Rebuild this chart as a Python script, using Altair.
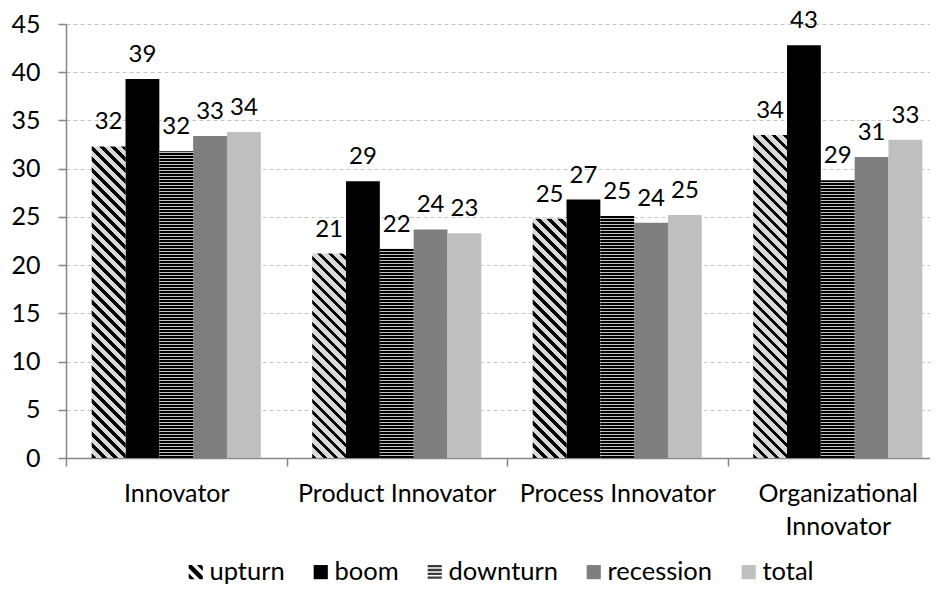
import altair as alt
import pandas as pd

categories = ["Innovator", "Product Innovator", "Process Innovator", "Organizational Innovator"]
series = ["upturn", "boom", "downturn", "recession", "total"]
upturn = [32.3, 21.2, 24.8, 33.5]
boom = [39.3, 28.7, 26.8, 42.8]
downturn = [31.8, 21.7, 25.1, 28.8]
recession = [33.4, 23.7, 24.4, 31.2]
total = [33.8, 23.3, 25.2, 33.0]
y_ticks = [0, 5, 10, 15, 20, 25, 30, 35, 40, 45]

series_values = {"upturn": upturn, "boom": boom, "downturn": downturn,
                 "recession": recession, "total": total}
rows = []
for s in series:
    for c, v in zip(categories, series_values[s]):
        rows.append({"category": c, "series": s, "value": v})
df = pd.DataFrame(rows)

FONT = "Lato"
W, H = 864, 434
STEP = 220.5
X_RANGE = STEP * len(categories)
OFF_PAD = 0.76
YMAX = 45
BAR_W = STEP / (len(series) + 2 * OFF_PAD)
GRAY = "#868686"


def stripe_stops(length, period, dark_len, dark, light):
    stops = []
    n = int(length / period) + 2
    for i in range(n):
        a = min(i * period / length, 1.0)
        b = min((i * period + dark_len) / length, 1.0)
        c = min((i + 1) * period / length, 1.0)
        stops += [{"offset": a, "color": dark}, {"offset": b, "color": dark},
                  {"offset": b, "color": light}, {"offset": c, "color": light}]
        if c >= 1.0:
            break
    return stops


def diag_fill(value):
    h = value / YMAX * H
    w = BAR_W
    r = w / h
    k = (1 + r) / (1 + r * r)
    return {"gradient": "linear", "x1": 0, "y1": 1, "x2": k * r, "y2": 1 - k,
            "stops": stripe_stops(h + w, 11.0, 4.6, "#000000", "#d9d9d9")}


def horiz_fill(value):
    h = value / YMAX * H
    return {"gradient": "linear", "x1": 0, "y1": 1, "x2": 0, "y2": 0,
            "stops": stripe_stops(h, 3.0, 1.6, "#000000", "#c4c4c4")}


UP_PATH = ("M-1,-1L-0.55,-1L1,0.55L1,1L0.55,1L-1,-0.55Z "
           "M0.15,-1L0.8,-1L1,-0.8L1,-0.15Z "
           "M-1,0.15L-1,0.8L-0.8,1L-0.15,1Z")
DOWN_PATH = ("M-1,-1H1V-0.68H-1Z M-1,-0.46H1V-0.14H-1Z "
             "M-1,0.08H1V0.4H-1Z M-1,0.62H1V0.94H-1Z")
shape_expr = ("datum.value === 'upturn' ? '" + UP_PATH + "' : "
              "datum.value === 'downturn' ? '" + DOWN_PATH + "' : 'square'")

x_enc = alt.X(
    "category:N", sort=categories,
    scale=alt.Scale(domain=categories, range=[0, X_RANGE], paddingInner=0, paddingOuter=0),
    axis=alt.Axis(title=None, labelAngle=0, tickBand="extent", domainColor=GRAY,
                  domainWidth=1.5, tickColor=GRAY, tickWidth=1.5, tickSize=8,
                  labelFont=FONT, labelFontSize=25, labelColor="black", labelPadding=15,
                  labelLineHeight=33, labelLimit=400, grid=False,
                  labelExpr="datum.label == 'Organizational Innovator' ? "
                            "['Organizational', 'Innovator'] : datum.label"),
)
xo_enc = alt.XOffset("series:N", sort=series,
                     scale=alt.Scale(domain=series, paddingInner=0, paddingOuter=OFF_PAD))
y_enc = alt.Y(
    "value:Q", scale=alt.Scale(domain=[0, YMAX], nice=False, zero=True),
    axis=alt.Axis(title=None, values=y_ticks, grid=True, gridColor="#c6c6c6",
                  gridDash=[4, 3], gridWidth=1, domainColor=GRAY, domainWidth=1.5,
                  tickColor=GRAY, tickWidth=1.5, tickSize=8, labelFont=FONT,
                  labelFontSize=25, labelColor="black", labelPadding=18),
)

base = alt.Chart(df).encode(x=x_enc, xOffset=xo_enc, y=y_enc)

solid = base.mark_bar().encode(
    color=alt.Color(
        "series:N",
        scale=alt.Scale(domain=series,
                        range=["#000000", "#000000", "#3a3a3a", "#7f7f7f", "#bfbfbf"]),
        legend=alt.Legend(title=None, orient="none", legendX=117, legendY=535,
                          direction="horizontal", labelFont=FONT, labelFontSize=25.5,
                          labelColor="black", symbolSize=200, columnPadding=23,
                          labelOffset=1, padding=0, symbolStrokeWidth=0,
                          symbolType=alt.ExprRef(expr=shape_expr)),
    )
).transform_filter(alt.FieldOneOfPredicate(field="series", oneOf=["boom", "recession", "total"]))

layers = [solid]
for i, c in enumerate(categories):
    layers.append(
        base.mark_bar(fill=diag_fill(upturn[i])).transform_filter(
            (alt.datum.category == c) & (alt.datum.series == "upturn"))
    )
    layers.append(
        base.mark_bar(fill=horiz_fill(downturn[i])).transform_filter(
            (alt.datum.category == c) & (alt.datum.series == "downturn"))
    )

labels = base.mark_text(font=FONT, fontSize=24, baseline="middle", dy=-24,
                        color="black").encode(text=alt.Text("value:Q", format=".0f"))
layers.append(labels)

chart = alt.layer(*layers).properties(
    width=W, height=H, autosize="none",
    padding={"left": 58, "top": 16, "right": 0, "bottom": 130},
).configure_view(stroke=None)

chart.save("out.html", embed_options={"renderer": "svg", "actions": False})
